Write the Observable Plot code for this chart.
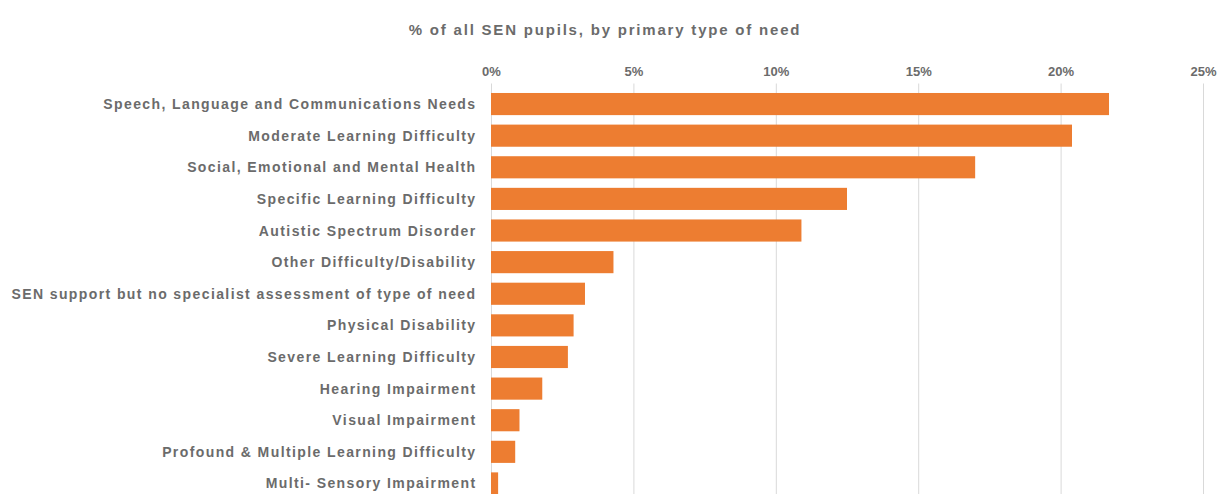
<!DOCTYPE html>
<html>
<head>
<meta charset="utf-8">
<script src="https://cdn.jsdelivr.net/npm/d3@7"></script>
<script src="https://cdn.jsdelivr.net/npm/@observablehq/plot@0.6"></script>
<style>
  html, body { margin: 0; padding: 0; background: #fff; }
  #wrap { width: 1222px; position: relative; }
  #title { position: relative; height: 50px; }
  #title span {
    position: absolute; left: 605px; top: 21px; transform: translateX(-50%);
    font: bold 15px "Liberation Sans", Arial, sans-serif; color: #6b6b6b;
    letter-spacing: 1.8px; white-space: nowrap;
  }
</style>
</head>
<body>
<div id="wrap">
  <div id="title"><span>% of all SEN pupils, by primary type of need</span></div>
  <div id="chart"></div>
</div>
<script>
const categories = [
  "Speech, Language and Communications Needs",
  "Moderate Learning Difficulty",
  "Social, Emotional and Mental Health",
  "Specific Learning Difficulty",
  "Autistic Spectrum Disorder",
  "Other Difficulty/Disability",
  "SEN support but no specialist assessment of type of need",
  "Physical Disability",
  "Severe Learning Difficulty",
  "Hearing Impairment",
  "Visual Impairment",
  "Profound & Multiple Learning Difficulty",
  "Multi- Sensory Impairment"
];
const values = [21.7, 20.4, 17.0, 12.5, 10.9, 4.3, 3.3, 2.9, 2.7, 1.8, 1.0, 0.85, 0.25];
const xTicks = [0, 5, 10, 15, 20, 25];

const data = categories.map((c, i) => ({category: c, value: values[i]}));

const chart = Plot.plot({
  width: 1222,
  height: 454,
  marginTop: 33.5,
  marginBottom: 0,
  marginLeft: 491,
  marginRight: 19,
  style: {
    fontFamily: '"Liberation Sans", Arial, sans-serif',
    fontWeight: "bold",
    color: "#6b6b6b",
    background: "#fff"
  },
  x: {domain: [0, 25], ticks: xTicks, label: null},
  y: {domain: categories, padding: 0.3, round: false, label: null},
  marks: [
    Plot.gridX(xTicks, {stroke: "#d9d9d9", strokeOpacity: 1, strokeWidth: 1}),
    Plot.barX(data, {y: "category", x: "value", fill: "#ED7D31"}),
    Plot.axisX({anchor: "top", ticks: xTicks, tickSize: 0, tickPadding: 8, tickFormat: d => d + "%", fill: "#6b6b6b", fontSize: 13, label: null}),
    Plot.axisY({tickSize: 0, tickPadding: 15, fill: "#6b6b6b", fontSize: 14, label: null})
  ]
});
d3.select(chart).selectAll('g[aria-label="y-axis tick label"]').attr("letter-spacing", "1.4px");
document.getElementById("chart").appendChild(chart);
</script>
</body>
</html>
